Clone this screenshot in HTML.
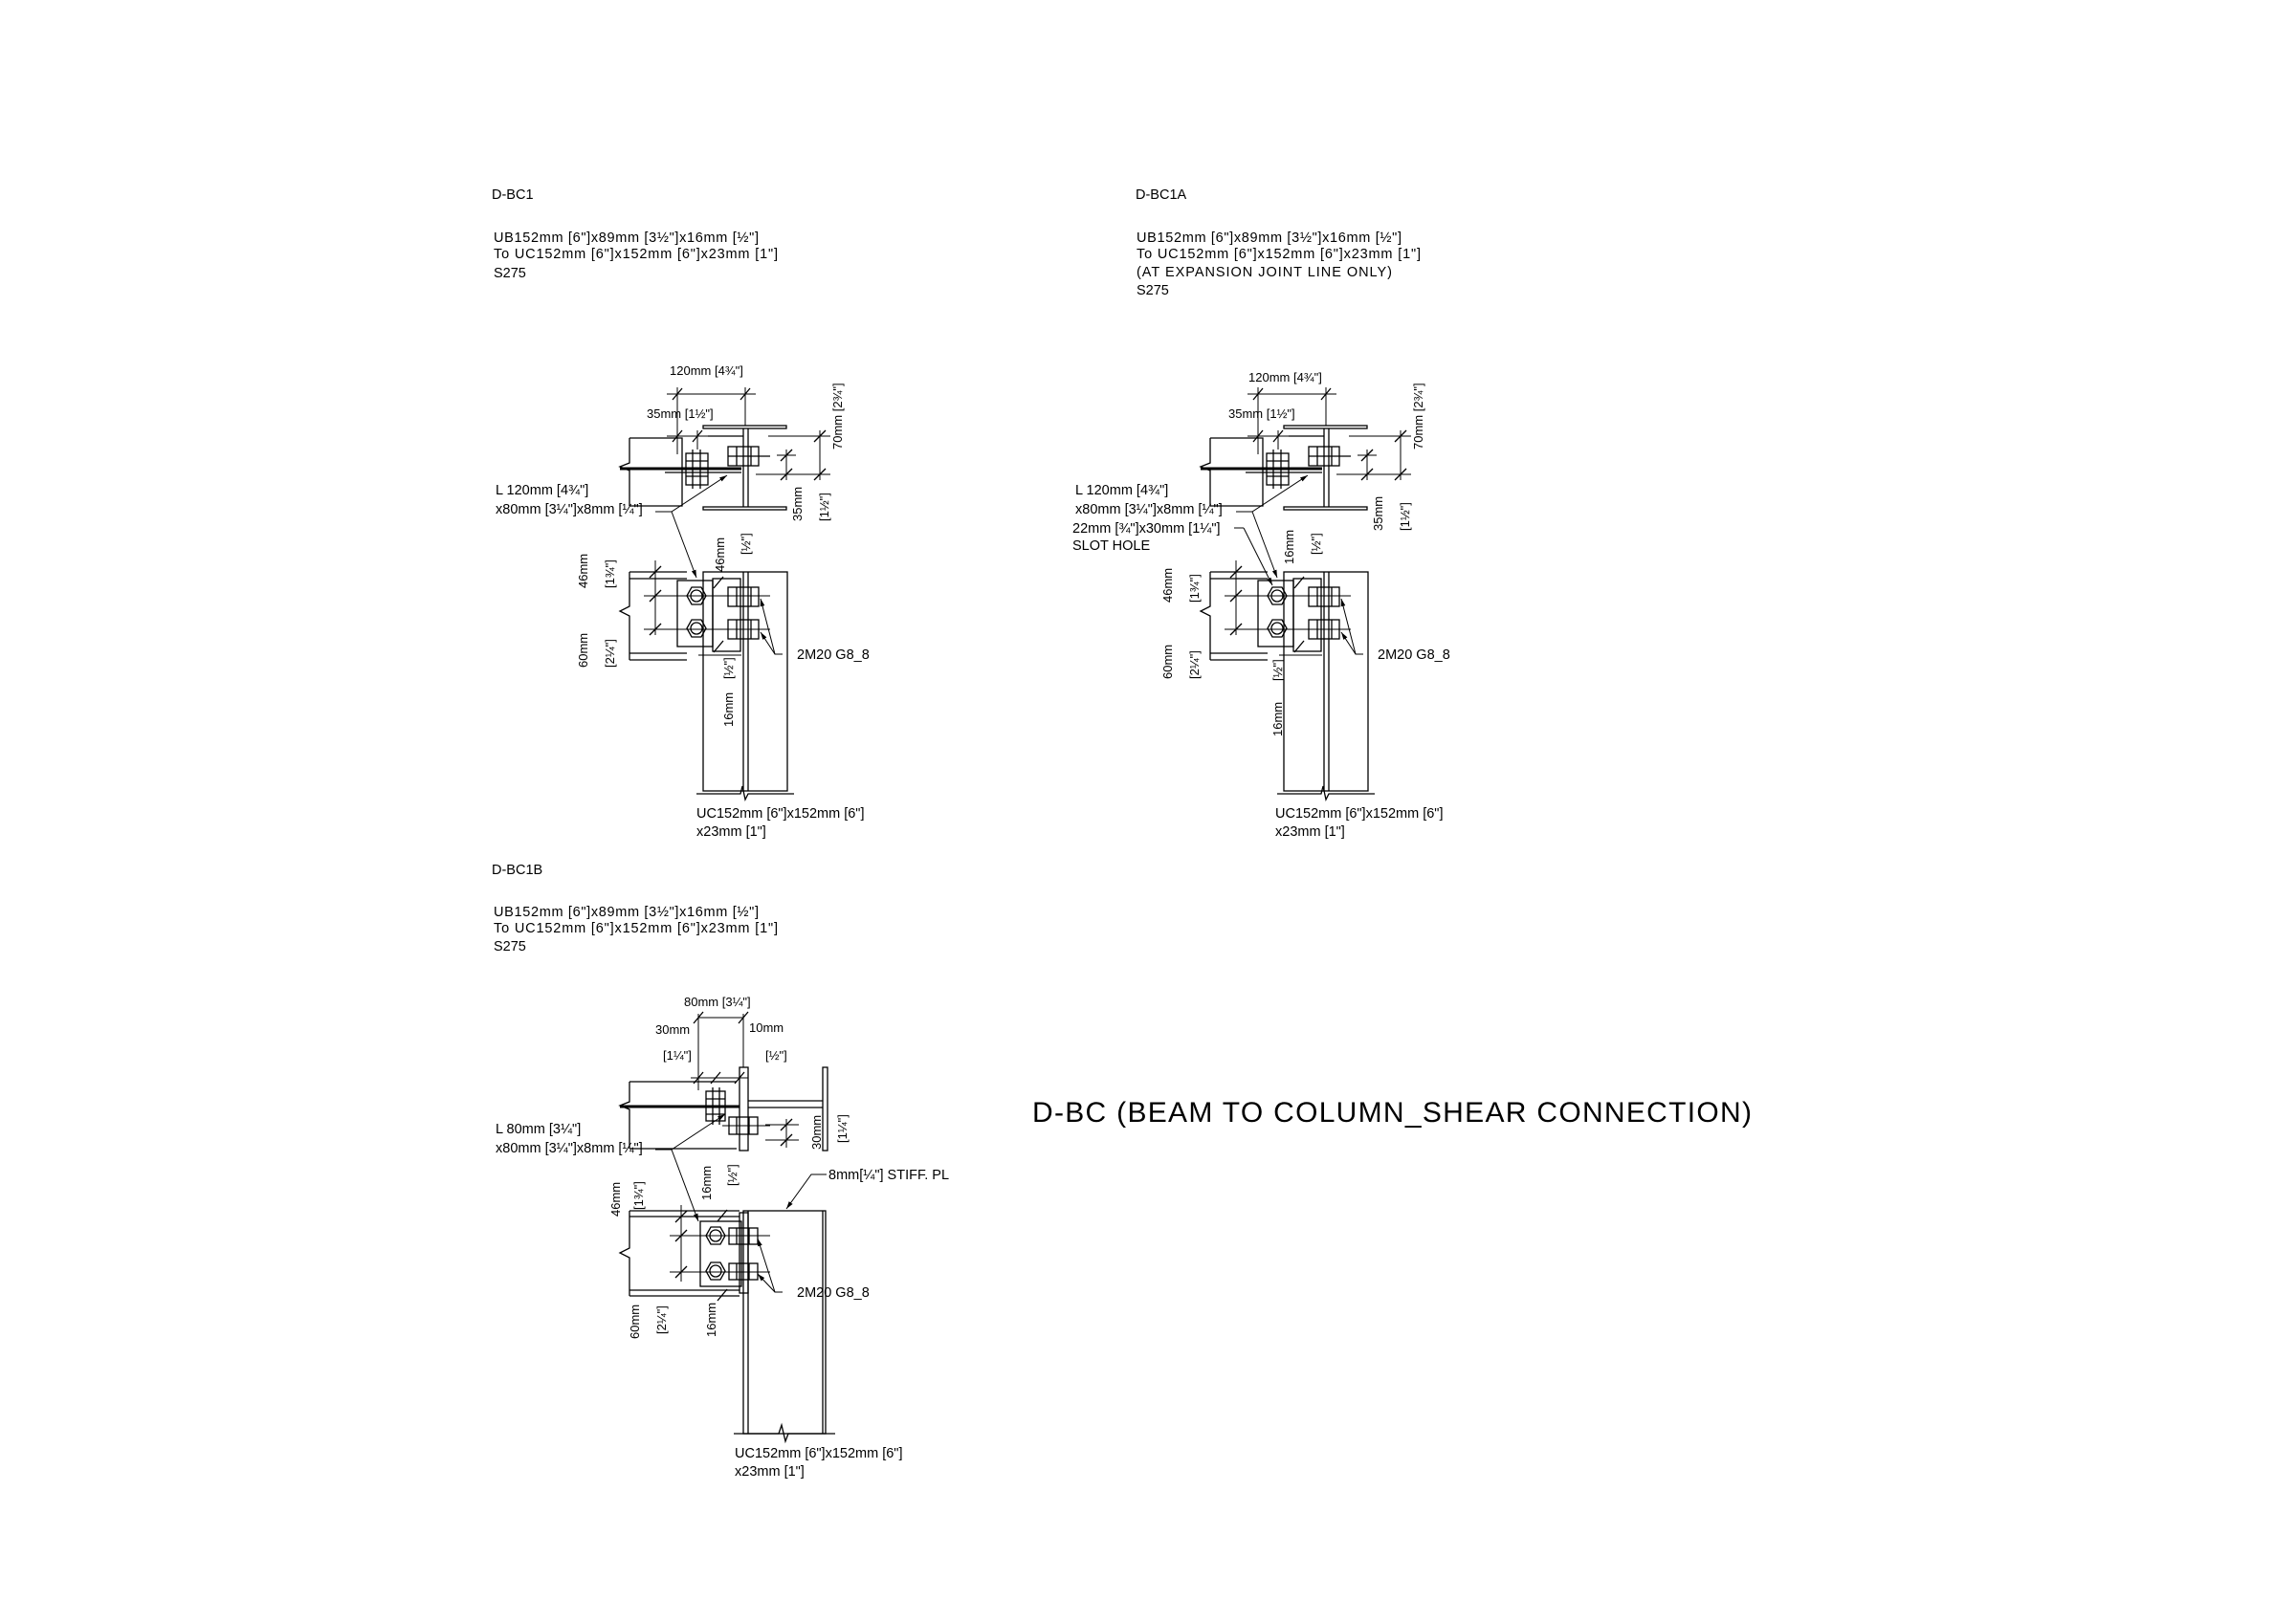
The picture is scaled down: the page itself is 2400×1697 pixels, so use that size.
<!DOCTYPE html>
<html><head><meta charset="utf-8"><style>
html,body{margin:0;padding:0;background:#fff;}
svg{display:block;}
text{font-family:"Liberation Sans",Arial,sans-serif;fill:#000;}
.t{font-size:14.5px;}
.s{font-size:13px;}
</style></head><body>
<svg width="2400" height="1697" viewBox="0 0 2400 1697" xmlns="http://www.w3.org/2000/svg">
<defs>
<marker id="ar" viewBox="0 0 10 10" refX="10" refY="5" markerWidth="8" markerHeight="8" orient="auto-start-reverse"><path d="M0,2 L10,5 L0,8z" fill="#000"/></marker>
<g id="d1" stroke="#000" fill="none" stroke-width="1.3">
  <!-- top plan: column section -->
  <rect x="735" y="445" width="87" height="3"/>
  <rect x="735" y="530" width="87" height="3"/>
  <line x1="777" y1="448" x2="777" y2="530"/><line x1="782" y1="448" x2="782" y2="530"/>
  <!-- beam plan -->
  <polyline points="658,458 713,458 713,529 658,529"/>
  <polyline points="658,458 658,484 648,488 658,492 658,529"/>
  <line x1="648" y1="490" x2="775" y2="490" stroke-width="3"/>
  <line x1="695" y1="494" x2="775" y2="494"/>
  <line x1="740" y1="456" x2="777" y2="456"/>
  <!-- bolts plan -->
  <rect x="717" y="474" width="23" height="33"/>
  <line x1="717" y1="482" x2="740" y2="482"/><line x1="717" y1="490" x2="740" y2="490"/><line x1="717" y1="498" x2="740" y2="498"/>
  <line x1="724" y1="470" x2="724" y2="511"/><line x1="732" y1="470" x2="732" y2="511"/>
  <rect x="761" y="467" width="32" height="20"/>
  <line x1="770" y1="467" x2="770" y2="487"/><line x1="785" y1="467" x2="785" y2="487"/><line x1="761" y1="477" x2="805" y2="477"/>
  <!-- top dims -->
  <line x1="697" y1="412" x2="790" y2="412" stroke-width="1"/>
  <line x1="708" y1="405" x2="708" y2="475" stroke-width="1"/>
  <line x1="779" y1="405" x2="779" y2="445" stroke-width="1"/>
  <line x1="703" y1="418" x2="713" y2="406"/><line x1="774" y1="418" x2="784" y2="406"/>
  <line x1="697" y1="456" x2="740" y2="456" stroke-width="1"/>
  <line x1="703" y1="462" x2="713" y2="450"/><line x1="724" y1="462" x2="734" y2="450"/>
  <line x1="729" y1="450" x2="729" y2="470" stroke-width="1"/>
  <!-- right dims -->
  <line x1="803" y1="456" x2="868" y2="456" stroke-width="1"/>
  <line x1="790" y1="496" x2="868" y2="496" stroke-width="1"/>
  <line x1="857" y1="450" x2="857" y2="502" stroke-width="1"/>
  <line x1="851" y1="462" x2="863" y2="450"/><line x1="851" y1="502" x2="863" y2="490"/>
  <line x1="812" y1="476" x2="832" y2="476" stroke-width="1"/>
  <line x1="822" y1="470" x2="822" y2="502" stroke-width="1"/>
  <line x1="816" y1="482" x2="828" y2="470"/><line x1="816" y1="502" x2="828" y2="490"/>
  <!-- column elevation -->
  <rect x="735" y="598" width="88" height="229"/>
  <line x1="777" y1="598" x2="777" y2="827"/><line x1="782" y1="598" x2="782" y2="827"/>
  <polyline points="728,830 774,830 776,822 779,836 782,830 830,830"/>
  <!-- beam elevation -->
  <line x1="658" y1="598" x2="718" y2="598"/><line x1="658" y1="605" x2="718" y2="605"/>
  <line x1="658" y1="683" x2="718" y2="683"/><line x1="658" y1="690" x2="718" y2="690"/>
  <polyline points="658,598 658,634 648,639 658,644 658,690"/>
  <!-- angle & plate -->
  <rect x="708" y="607" width="37" height="69"/>
  <rect x="745" y="605" width="29" height="76"/>
  <!-- bolts -->
  <polygon points="718,623 723,614 733,614 738,623 733,632 723,632"/><circle cx="728" cy="623" r="6"/>
  <polygon points="718,657 723,648 733,648 738,657 733,666 723,666"/><circle cx="728" cy="657" r="6"/>
  <rect x="761" y="614" width="32" height="20"/><line x1="770" y1="614" x2="770" y2="634"/><line x1="785" y1="614" x2="785" y2="634"/>
  <rect x="761" y="648" width="32" height="20"/><line x1="770" y1="648" x2="770" y2="668"/><line x1="785" y1="648" x2="785" y2="668"/>
  <line x1="673" y1="623" x2="805" y2="623" stroke-width="1"/><line x1="673" y1="658" x2="805" y2="658" stroke-width="1"/>
  <!-- left dims -->
  <line x1="685" y1="586" x2="685" y2="664" stroke-width="1"/>
  <line x1="679" y1="604" x2="691" y2="592"/><line x1="679" y1="629" x2="691" y2="617"/><line x1="679" y1="664" x2="691" y2="652"/>
  <line x1="746" y1="615" x2="756" y2="603"/><line x1="746" y1="682" x2="756" y2="670"/>
  <line x1="730" y1="685" x2="775" y2="685" stroke-width="1"/>
  <!-- leaders -->
  <polyline points="685,535 702,535 760,497" stroke-width="1" marker-end="url(#ar)"/>
  <line x1="702" y1="535" x2="728" y2="604" stroke-width="1" marker-end="url(#ar)"/>
  <polyline points="818,684 810,684 795,626" stroke-width="1" marker-end="url(#ar)"/>
  <line x1="810" y1="684" x2="795" y2="661" stroke-width="1" marker-end="url(#ar)"/>
</g>
</defs>

<!-- ===== D-BC1 ===== -->
<text class="t" x="514" y="208">D-BC1</text>
<text class="t" x="516" y="253" textLength="277">UB152mm [6"]x89mm [3½"]x16mm [½"]</text>
<text class="t" x="516" y="270" textLength="297">To UC152mm [6"]x152mm [6"]x23mm [1"]</text>
<text class="t" x="516" y="290">S275</text>
<use href="#d1"/>
<text class="s" x="700" y="392">120mm [4¾"]</text>
<text class="s" x="676" y="437">35mm [1½"]</text>
<text class="t" x="518" y="517">L 120mm [4¾"]</text>
<text class="t" x="518" y="537">x80mm [3¼"]x8mm [¼"]</text>
<text class="t" x="833" y="689">2M20 G8_8</text>
<text class="t" x="728" y="855">UC152mm [6"]x152mm [6"]</text>
<text class="t" x="728" y="874">x23mm [1"]</text>
<g class="s">
<text transform="translate(880,470) rotate(-90)">70mm [2¾"]</text>
<text transform="translate(838,545) rotate(-90)">35mm</text>
<text transform="translate(866,545) rotate(-90)">[1½"]</text>
<text transform="translate(614,615) rotate(-90)">46mm</text>
<text transform="translate(642,615) rotate(-90)">[1¾"]</text>
<text transform="translate(614,698) rotate(-90)">60mm</text>
<text transform="translate(642,698) rotate(-90)">[2¼"]</text>
<text transform="translate(757,598) rotate(-90)">46mm</text>
<text transform="translate(784,580) rotate(-90)">[½"]</text>
<text transform="translate(766,710) rotate(-90)">[½"]</text>
<text transform="translate(766,760) rotate(-90)">16mm</text>
</g>

<!-- ===== D-BC1A ===== -->
<text class="t" x="1187" y="208">D-BC1A</text>
<text class="t" x="1188" y="253" textLength="277">UB152mm [6"]x89mm [3½"]x16mm [½"]</text>
<text class="t" x="1188" y="270" textLength="297">To UC152mm [6"]x152mm [6"]x23mm [1"]</text>
<text class="t" x="1188" y="289" textLength="267">(AT EXPANSION JOINT LINE ONLY)</text>
<text class="t" x="1188" y="308">S275</text>
<use href="#d1" x="607" y="0"/>
<text class="s" x="1305" y="399">120mm [4¾"]</text>
<text class="s" x="1284" y="437">35mm [1½"]</text>
<text class="t" x="1124" y="517">L 120mm [4¾"]</text>
<text class="t" x="1124" y="537">x80mm [3¼"]x8mm [¼"]</text>
<text class="t" x="1121" y="557">22mm [¾"]x30mm [1¼"]</text>
<line x1="1290" y1="552" x2="1300" y2="552" stroke="#000"/>
<line x1="1300" y1="552" x2="1330" y2="612" stroke="#000" marker-end="url(#ar)"/>
<text class="t" x="1121" y="575">SLOT HOLE</text>
<text class="t" x="1440" y="689">2M20 G8_8</text>
<text class="t" x="1333" y="855">UC152mm [6"]x152mm [6"]</text>
<text class="t" x="1333" y="874">x23mm [1"]</text>
<g class="s">
<text transform="translate(1487,470) rotate(-90)">70mm [2¾"]</text>
<text transform="translate(1445,555) rotate(-90)">35mm</text>
<text transform="translate(1473,555) rotate(-90)">[1½"]</text>
<text transform="translate(1225,630) rotate(-90)">46mm</text>
<text transform="translate(1253,630) rotate(-90)">[1¾"]</text>
<text transform="translate(1225,710) rotate(-90)">60mm</text>
<text transform="translate(1253,710) rotate(-90)">[2¼"]</text>
<text transform="translate(1352,590) rotate(-90)">16mm</text>
<text transform="translate(1380,580) rotate(-90)">[½"]</text>
<text transform="translate(1340,712) rotate(-90)">[½"]</text>
<text transform="translate(1340,770) rotate(-90)">16mm</text>
</g>

<!-- ===== D-BC1B ===== -->
<text class="t" x="514" y="914">D-BC1B</text>
<text class="t" x="516" y="958" textLength="277">UB152mm [6"]x89mm [3½"]x16mm [½"]</text>
<text class="t" x="516" y="975" textLength="297">To UC152mm [6"]x152mm [6"]x23mm [1"]</text>
<text class="t" x="516" y="994">S275</text>
<g stroke="#000" fill="none" stroke-width="1.3">
  <!-- top plan -->
  <rect x="860" y="1116" width="5" height="87"/>
  <rect x="773" y="1116" width="9" height="87"/>
  <line x1="782" y1="1151" x2="860" y2="1151"/><line x1="782" y1="1158" x2="860" y2="1158"/>
  <polyline points="658,1131 770,1131"/><line x1="658" y1="1201" x2="770" y2="1201"/>
  <polyline points="658,1131 658,1152 648,1156 658,1160 658,1201"/>
  <line x1="648" y1="1157" x2="773" y2="1157" stroke-width="3"/>
  <rect x="738" y="1141" width="20" height="31"/>
  <line x1="738" y1="1149" x2="758" y2="1149"/><line x1="738" y1="1157" x2="758" y2="1157"/><line x1="738" y1="1165" x2="758" y2="1165"/>
  <line x1="745" y1="1137" x2="745" y2="1176"/><line x1="752" y1="1137" x2="752" y2="1176"/>
  <rect x="762" y="1168" width="30" height="18"/><line x1="770" y1="1168" x2="770" y2="1186"/><line x1="783" y1="1168" x2="783" y2="1186"/>
  <line x1="755" y1="1177" x2="805" y2="1177" stroke-width="1"/>
  <!-- top dims -->
  <line x1="730" y1="1064" x2="777" y2="1064" stroke-width="1"/>
  <line x1="730" y1="1060" x2="730" y2="1140" stroke-width="1"/>
  <line x1="777" y1="1060" x2="777" y2="1116" stroke-width="1"/>
  <line x1="725" y1="1070" x2="735" y2="1058"/><line x1="772" y1="1070" x2="782" y2="1058"/>
  <line x1="722" y1="1127" x2="782" y2="1127" stroke-width="1"/>
  <line x1="725" y1="1133" x2="735" y2="1121"/><line x1="743" y1="1133" x2="753" y2="1121"/><line x1="768" y1="1133" x2="778" y2="1121"/>
  <line x1="800" y1="1176" x2="835" y2="1176" stroke-width="1"/><line x1="800" y1="1192" x2="835" y2="1192" stroke-width="1"/>
  <line x1="822" y1="1170" x2="822" y2="1200" stroke-width="1"/>
  <line x1="816" y1="1182" x2="828" y2="1170"/><line x1="816" y1="1198" x2="828" y2="1186"/>
  <!-- column elevation -->
  <rect x="777" y="1266" width="86" height="233"/>
  <line x1="782" y1="1266" x2="782" y2="1499"/><line x1="860" y1="1266" x2="860" y2="1499"/>
  <polyline points="767,1499 814,1499 817,1490 821,1507 824,1499 873,1499"/>
  <!-- beam elevation -->
  <line x1="658" y1="1266" x2="773" y2="1266"/><line x1="658" y1="1272" x2="773" y2="1272"/>
  <line x1="658" y1="1349" x2="773" y2="1349"/><line x1="658" y1="1355" x2="773" y2="1355"/>
  <polyline points="658,1266 658,1305 648,1310 658,1315 658,1355"/>
  <rect x="732" y="1277" width="43" height="68"/>
  <rect x="773" y="1268" width="9" height="84"/>
  <polygon points="738,1292 743,1283 753,1283 758,1292 753,1301 743,1301"/><circle cx="748" cy="1292" r="6"/>
  <polygon points="738,1329 743,1320 753,1320 758,1329 753,1338 743,1338"/><circle cx="748" cy="1329" r="6"/>
  <rect x="762" y="1284" width="30" height="17"/><line x1="770" y1="1284" x2="770" y2="1301"/><line x1="783" y1="1284" x2="783" y2="1301"/>
  <rect x="762" y="1321" width="30" height="17"/><line x1="770" y1="1321" x2="770" y2="1338"/><line x1="783" y1="1321" x2="783" y2="1338"/>
  <line x1="700" y1="1292" x2="805" y2="1292" stroke-width="1"/><line x1="700" y1="1330" x2="805" y2="1330" stroke-width="1"/>
  <line x1="712" y1="1260" x2="712" y2="1340" stroke-width="1"/>
  <line x1="706" y1="1278" x2="718" y2="1266"/><line x1="706" y1="1298" x2="718" y2="1286"/><line x1="706" y1="1336" x2="718" y2="1324"/>
  <line x1="750" y1="1277" x2="760" y2="1265"/><line x1="750" y1="1360" x2="760" y2="1348"/>
  <!-- leaders -->
  <polyline points="685,1202 702,1202 758,1165" stroke-width="1" marker-end="url(#ar)"/>
  <line x1="702" y1="1202" x2="730" y2="1277" stroke-width="1" marker-end="url(#ar)"/>
  <polyline points="818,1351 810,1351 792,1295" stroke-width="1" marker-end="url(#ar)"/>
  <line x1="810" y1="1351" x2="792" y2="1332" stroke-width="1" marker-end="url(#ar)"/>
  <polyline points="864,1228 848,1228 822,1264" stroke-width="1" marker-end="url(#ar)"/>
</g>
<text class="s" x="715" y="1052">80mm [3¼"]</text>
<text class="s" x="685" y="1081">30mm</text>
<text class="s" x="693" y="1108">[1¼"]</text>
<text class="s" x="783" y="1079">10mm</text>
<text class="s" x="800" y="1108">[½"]</text>
<text class="t" x="518" y="1185">L 80mm [3¼"]</text>
<text class="t" x="518" y="1205">x80mm [3¼"]x8mm [¼"]</text>
<text class="t" x="866" y="1233">8mm[¼"] STIFF. PL</text>
<text class="t" x="833" y="1356">2M20 G8_8</text>
<text class="t" x="768" y="1524">UC152mm [6"]x152mm [6"]</text>
<text class="t" x="768" y="1543">x23mm [1"]</text>
<g class="s">
<text transform="translate(858,1202) rotate(-90)">30mm</text>
<text transform="translate(885,1195) rotate(-90)">[1¼"]</text>
<text transform="translate(743,1255) rotate(-90)">16mm</text>
<text transform="translate(770,1240) rotate(-90)">[½"]</text>
<text transform="translate(648,1272) rotate(-90)">46mm</text>
<text transform="translate(672,1265) rotate(-90)">[1¾"]</text>
<text transform="translate(668,1400) rotate(-90)">60mm</text>
<text transform="translate(696,1395) rotate(-90)">[2¼"]</text>
<text transform="translate(748,1398) rotate(-90)">16mm</text>
</g>

<!-- Title -->
<text x="1079" y="1173" style="font-size:30px" textLength="752">D-BC (BEAM TO COLUMN_SHEAR CONNECTION)</text>
</svg>
</body></html>
